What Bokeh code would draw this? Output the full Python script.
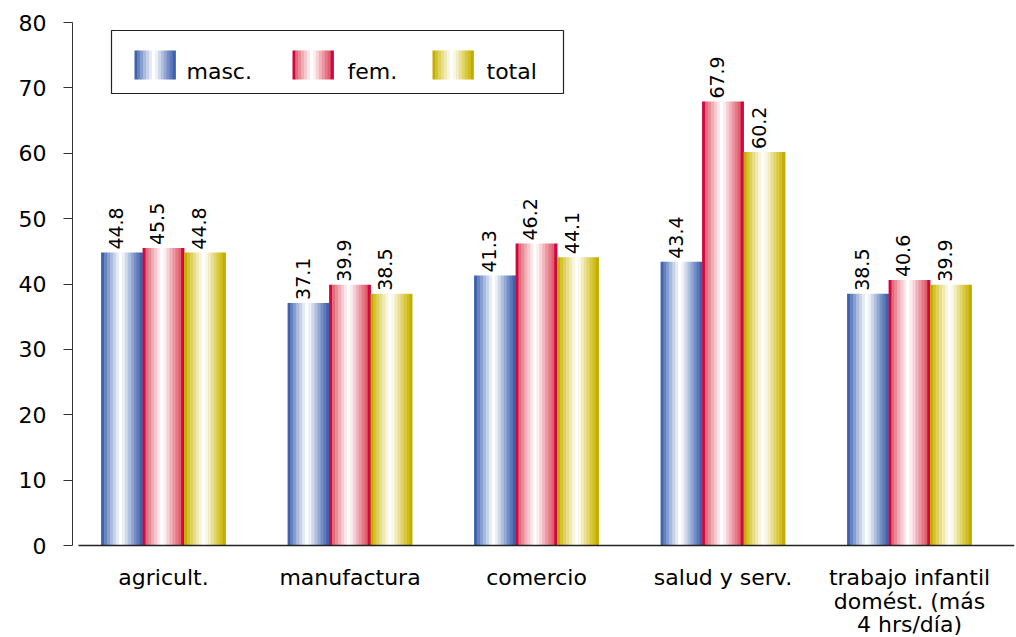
import numpy as np
from bokeh.plotting import figure
from bokeh.models import ColumnDataSource, Range1d, FixedTicker, LabelSet
from bokeh.core.properties import value
from bokeh.embed import file_html
from bokeh.resources import INLINE

# ---------------- data ----------------
categories = ["agricult.", "manufactura", "comercio", "salud y serv.",
              "trabajo infantil\ndomést. (más\n4 hrs/día)"]
series_names = ["masc.", "fem.", "total"]
masc = [44.8, 37.1, 41.3, 43.4, 38.5]
fem = [45.5, 39.9, 46.2, 67.9, 40.6]
total = [44.8, 38.5, 44.1, 60.2, 39.9]
y_ticks = [0, 10, 20, 30, 40, 50, 60, 70, 80]

# ---------------- style ----------------
FONT = "DejaVu Sans"
W, H = 1016, 636
BL, BR, BT = 72, 2, 22
FW = W - BL - BR
ZERO_PX = 545          # page row of value 0
PX80 = ZERO_PX - BT    # pixels for 80 units
X0, X1 = 0.012, 0.012 + FW / 186.5
dark_colors = ["#4468b2", "#dc4a5c", "#cbb500"]
edge_colors = ["#3f62ad", "#d0073f", "#c4ad00"]
profile = [1.0, 0.82, 0.64, 0.46, 0.3, 0.14, 0.0, 0.1, 0.25, 0.42, 0.58, 0.74, 0.88, 1.0]
NS = len(profile)
BW = 0.2225  # bar width in category units


def hex_rgb(h):
    h = h.lstrip("#")
    return [int(h[i:i + 2], 16) for i in (0, 2, 4)]


def mix(h, t):
    r = hex_rgb(h)
    c = [round(255 + (v - 255) * t) for v in r]
    return "#%02x%02x%02x" % tuple(c)


def strip_colors(j):
    cols = [mix(dark_colors[j], t) for t in profile]
    cols[0] = edge_colors[j]
    cols[-1] = edge_colors[j]
    return cols


# page pixel -> data (for legend / label placement)
def dx(px):
    return X0 + (px - BL) / FW * (X1 - X0)


def dy(py):
    return (ZERO_PX - py) / PX80 * 80


all_series = [masc, fem, total]
centers = np.arange(len(categories)) + 0.5

p = figure(width=W, height=H, output_backend="svg", toolbar_location=None,
           x_range=Range1d(X0, X1), y_range=Range1d(dy(H), 80),
           min_border_left=BL, min_border_right=BR, min_border_top=BT,
           min_border_bottom=0, outline_line_color=None)
p.xgrid.visible = False
p.ygrid.visible = False
p.xaxis.visible = False

# bars as gradient strips
xs, tops, cols = [], [], []
for j, vals in enumerate(all_series):
    sc = strip_colors(j)
    for i, v in enumerate(vals):
        left = centers[i] + (j - 1) * BW - BW / 2
        for k in range(NS):
            xs.append(left + (k + 0.5) * BW / NS)
            tops.append(v)
            cols.append(sc[k])
src = ColumnDataSource(dict(x=xs, top=tops, color=cols))
p.vbar(x="x", top="top", bottom=0, width=BW / NS * 1.12, fill_color="color",
       line_color=None, source=src)

# baseline (x axis line)
p.segment(x0=[dx(78)], y0=[0], x1=[X1], y1=[0], line_color="#222222", line_width=1.3)

# value labels
lx, ly, lt = [], [], []
for j, vals in enumerate(all_series):
    for i, v in enumerate(vals):
        lx.append(centers[i] + (j - 1) * BW)
        ly.append(v)
        lt.append(f"{v:.1f}")
lsrc = ColumnDataSource(dict(x=lx, y=ly, text=lt))
p.add_layout(LabelSet(x="x", y="y", text="text", source=lsrc, angle=90,
                      angle_units="deg", text_align="left",
                      text_baseline="alphabetic", x_offset=1, y_offset=3,
                      text_font=value(FONT), text_font_size="19px",
                      text_color="black"))

# y axis
ax = p.yaxis[0]
ax.bounds = (0, 80)
ax.ticker = FixedTicker(ticks=y_ticks)
ax.major_tick_out = 9
ax.major_tick_in = 0
ax.minor_tick_line_color = None
ax.axis_line_color = "#333333"
ax.major_tick_line_color = "#333333"
ax.major_label_text_font = FONT
ax.major_label_text_font_size = "22px"
ax.major_label_text_color = "black"
ax.major_label_standoff = 17

# category labels (one text row per line)
cx, cy, ct = [], [], []
for c, name in zip(centers, categories):
    for n, line in enumerate(name.split("\n")):
        cx.append(c)
        cy.append(dy(577 + n * 23.5))
        ct.append(line)
p.text(x=cx, y=cy, text=ct, text_align="center", text_baseline="alphabetic",
       text_font=value(FONT), text_font_size="22px", text_color="black")

# manual legend
p.quad(left=[dx(111)], right=[dx(563)], top=[dy(30)], bottom=[dy(93)],
       fill_color="white", line_color="#222222", line_width=1.2)
sw_left = [134, 292, 432]
sw_w = 41
gl, gr, gc = [], [], []
for j in range(3):
    sc = strip_colors(j)
    for k in range(NS):
        gl.append(dx(sw_left[j] + k * sw_w / NS))
        gr.append(dx(sw_left[j] + (k + 1) * sw_w / NS + 0.4))
        gc.append(sc[k])
p.quad(left=gl, right=gr, top=dy(50), bottom=dy(79), fill_color=gc, line_color=None)
p.text(x=[dx(186), dx(347), dx(486)], y=[dy(71)] * 3, text=series_names,
       text_font=value(FONT), text_font_size="22px", text_baseline="middle",
       text_align="left", text_color="black")

open("out.html", "w").write(file_html(p, INLINE))
